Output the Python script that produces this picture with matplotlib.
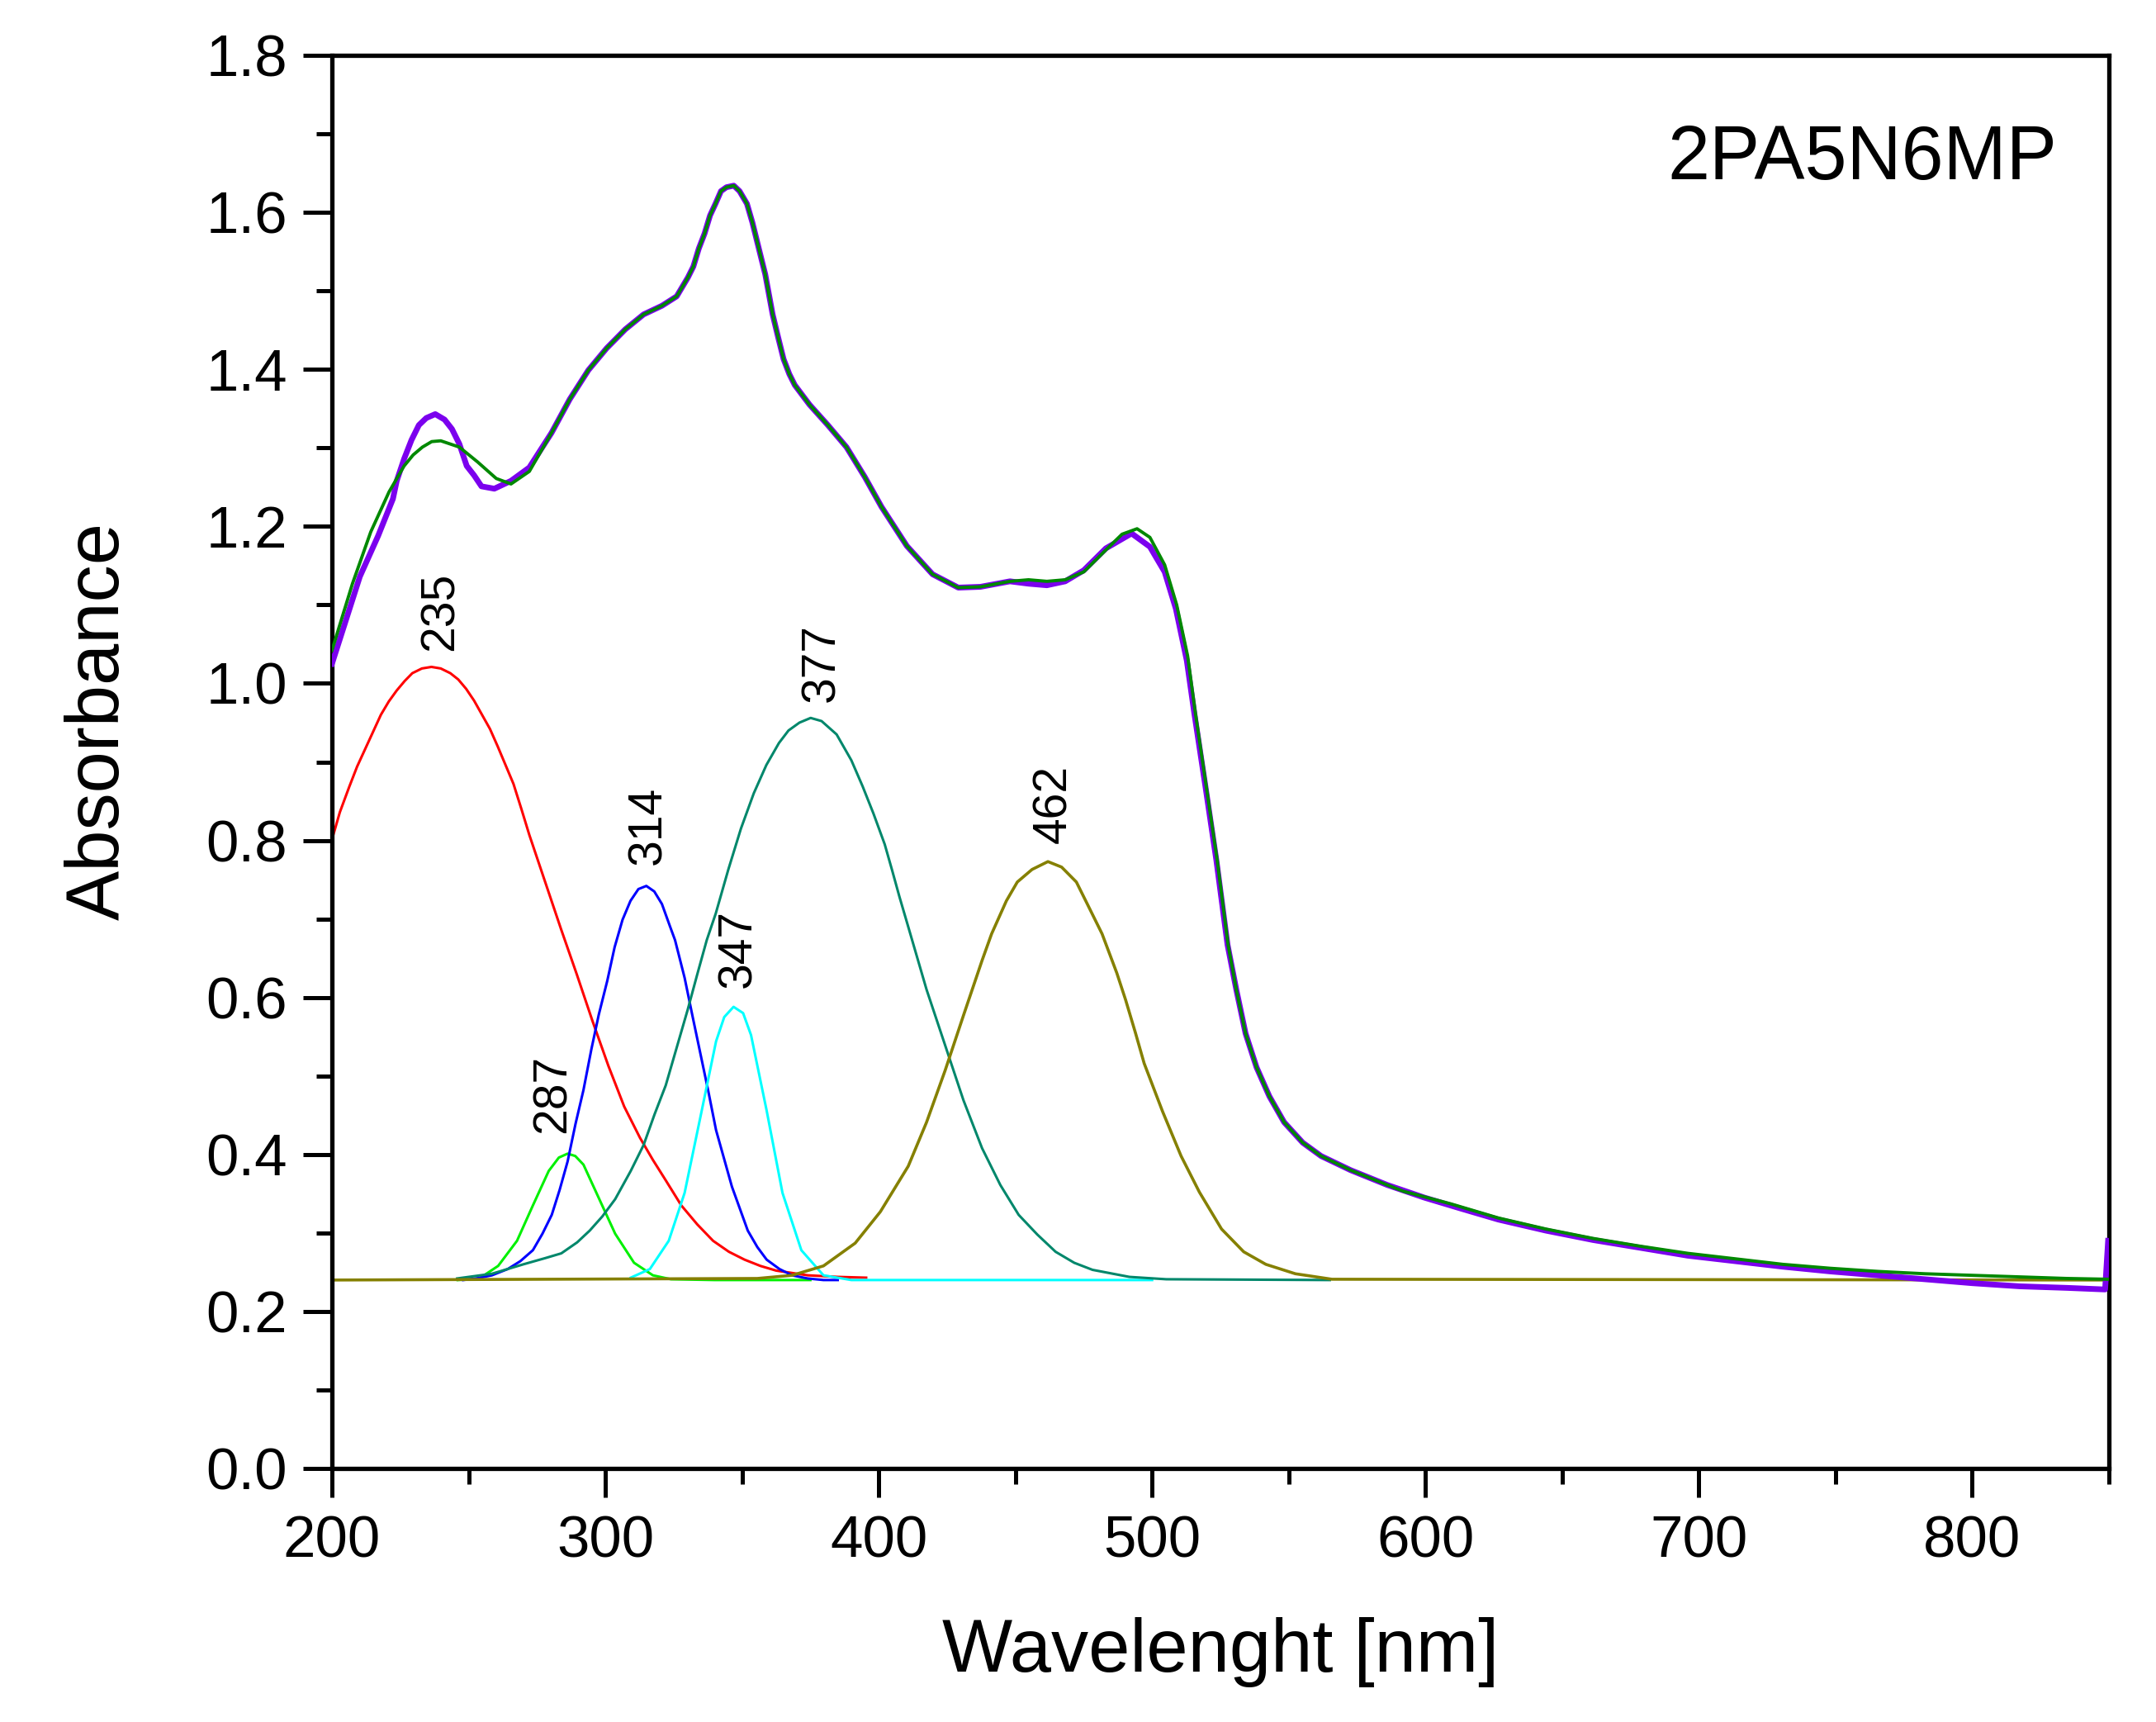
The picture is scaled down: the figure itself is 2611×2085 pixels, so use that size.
import matplotlib
matplotlib.use("Agg")
import matplotlib.pyplot as plt
from matplotlib.ticker import MultipleLocator, FormatStrFormatter

plt.rcParams['font.family'] = ['Liberation Sans', 'DejaVu Sans']

# ---------------- data ----------------
data_x = [200, 210.2, 216.9, 222.3, 223.7, 226.4, 229.1, 231.8, 234.5, 237.8, 241.2, 243.9,
          246.6, 249.3, 252.0, 254.7, 259.4, 265.5, 272.2, 280.3, 287.0, 293.8, 300.5, 307.3,
          314.0, 320.7, 326.1, 330.2, 332.2, 334.2, 336.3, 338.3, 340.3, 342.3, 344.3, 347.0,
          349.1, 351.8, 353.8, 356.5, 358.5, 361.2, 363.2, 365.2, 367.3, 369.3, 374.7, 381.4,
          388.2, 394.9, 401.0, 410.3, 419.7, 429.1, 437.2, 448.0, 454.8, 461.5, 468.2, 475.0,
          483.1, 492.5, 499.2, 504.6, 508.7, 512.7, 515.4, 519.5, 523.5, 527.6, 530.8, 534.2,
          538.2, 542.9, 548.3, 555.1, 561.8, 572.6, 586.1, 599.6, 613.0, 626.7, 644.0, 661.3,
          678.7, 696.0, 713.4, 730.7, 748.0, 765.4, 782.7, 800.0, 817.4, 834.7, 848.6, 849.7]
data_y = [1.025, 1.136, 1.188, 1.235, 1.258, 1.286, 1.310, 1.329, 1.338, 1.343, 1.336, 1.324,
          1.305, 1.277, 1.265, 1.251, 1.248, 1.258, 1.275, 1.319, 1.362, 1.399, 1.427, 1.451,
          1.470, 1.481, 1.493, 1.517, 1.531, 1.554, 1.573, 1.596, 1.611, 1.627, 1.632, 1.634,
          1.627, 1.611, 1.587, 1.549, 1.521, 1.470, 1.441, 1.413, 1.394, 1.380, 1.355, 1.329,
          1.301, 1.263, 1.225, 1.175, 1.139, 1.122, 1.123, 1.130, 1.127, 1.125, 1.130, 1.144,
          1.172, 1.191, 1.174, 1.142, 1.095, 1.029, 0.963, 0.869, 0.775, 0.667, 0.610, 0.554,
          0.511, 0.474, 0.441, 0.415, 0.398, 0.380, 0.361, 0.345, 0.331, 0.317, 0.303, 0.291,
          0.281, 0.271, 0.264, 0.257, 0.251, 0.246, 0.241, 0.236, 0.232, 0.230, 0.228, 0.290]

fit_x = [200, 207.5, 214.2, 220.9, 226.4, 229.7, 233.1, 236.5, 239.8, 243.2, 246.6, 253.3,
         260.1, 265.5, 272.2, 280.3, 287.0, 293.8, 300.5, 307.3, 314.0, 320.7, 326.1, 330.2,
         332.2, 334.2, 336.3, 338.3, 340.3, 342.3, 344.3, 347.0, 349.1, 351.8, 353.8, 356.5,
         358.5, 361.2, 363.2, 365.2, 367.3, 369.3, 374.7, 381.4, 388.2, 394.9, 401.0, 410.3,
         419.7, 429.1, 437.2, 448.0, 454.8, 461.5, 468.2, 475.0, 483.1, 489.0, 494.5, 499.2,
         504.6, 509.0, 513.0, 515.8, 519.8, 523.8, 527.8, 530.8, 534.2, 538.2, 542.9, 548.3,
         555.1, 561.8, 572.6, 586.1, 592.0, 609.3, 626.7, 644.0, 661.3, 678.7, 696.0, 713.4,
         730.7, 748.0, 765.4, 782.7, 800.0, 817.4, 834.7, 850.0]
fit_y = [1.042, 1.127, 1.193, 1.244, 1.277, 1.291, 1.301, 1.308, 1.309, 1.305, 1.301, 1.282,
         1.261, 1.254, 1.270, 1.319, 1.362, 1.399, 1.427, 1.451, 1.470, 1.481, 1.493, 1.517,
         1.531, 1.554, 1.573, 1.596, 1.611, 1.627, 1.632, 1.634, 1.627, 1.611, 1.587, 1.549,
         1.521, 1.470, 1.441, 1.413, 1.394, 1.380, 1.355, 1.329, 1.301, 1.263, 1.225, 1.175,
         1.139, 1.122, 1.123, 1.130, 1.132, 1.130, 1.132, 1.142, 1.170, 1.190, 1.197, 1.186,
         1.151, 1.100, 1.035, 0.963, 0.869, 0.775, 0.667, 0.610, 0.554, 0.511, 0.474, 0.441,
         0.415, 0.398, 0.380, 0.361, 0.353, 0.337, 0.319, 0.305, 0.293, 0.283, 0.274, 0.267,
         0.260, 0.255, 0.251, 0.248, 0.246, 0.244, 0.242, 0.241]

p235_x = [200, 202.9, 206.3, 209.2, 212.1, 215.0, 217.9, 220.8, 223.7, 226.6, 229.4, 232.9,
          236.4, 239.8, 243.3, 246.2, 249.1, 252.0, 254.9, 257.8, 260.6, 263.5, 266.4, 269.3,
          272.2, 278.0, 283.8, 289.5, 295.3, 301.1, 306.9, 312.7, 317.4, 322.1, 327.8, 333.6,
          339.4, 345.2, 350.9, 356.7, 362.5, 374.1, 385.0, 395.4]
p235_y = [0.801, 0.836, 0.868, 0.894, 0.916, 0.938, 0.960, 0.977, 0.991, 1.003, 1.013, 1.019,
          1.021, 1.019, 1.013, 1.005, 0.993, 0.978, 0.960, 0.942, 0.920, 0.896, 0.872, 0.840,
          0.807, 0.747, 0.687, 0.630, 0.570, 0.513, 0.461, 0.421, 0.393, 0.367, 0.335, 0.311,
          0.290, 0.276, 0.266, 0.258, 0.252, 0.246, 0.244, 0.243]

p287_x = [246.0, 253.9, 260.8, 267.7, 273.5, 279.3, 283.0, 286.2, 289.0, 292.0, 297.8, 303.6,
          310.5, 317.4, 324.0, 340.0, 360.0, 375.0]
p287_y = [0.240, 0.242, 0.258, 0.290, 0.335, 0.379, 0.396, 0.401, 0.398, 0.387, 0.343, 0.299,
          0.262, 0.246, 0.241, 0.240, 0.240, 0.240]

p314_x = [248.0, 252.7, 258.5, 264.3, 268.9, 273.5, 277.0, 280.4, 283.3, 286.2, 289.1, 292.0,
          294.9, 297.6, 300.7, 303.4, 306.3, 309.2, 312.1, 315.0, 317.9, 320.7, 323.6, 325.5,
          329.0, 331.9, 334.8, 337.7, 340.5, 343.4, 346.3, 349.2, 352.1, 355.6, 359.0, 363.7,
          368.3, 374.0, 379.8, 385.0]
p314_y = [0.240, 0.242, 0.246, 0.254, 0.264, 0.278, 0.299, 0.323, 0.355, 0.391, 0.439, 0.482,
          0.534, 0.578, 0.621, 0.664, 0.699, 0.723, 0.738, 0.742, 0.735, 0.719, 0.691, 0.673,
          0.625, 0.576, 0.528, 0.480, 0.431, 0.395, 0.359, 0.331, 0.303, 0.282, 0.266, 0.254,
          0.246, 0.242, 0.240, 0.240]

p347_x = [309.3, 316.3, 323.2, 329.0, 334.8, 340.5, 343.5, 346.9, 350.4, 353.3, 359.0, 364.8,
          371.7, 379.8, 390.0, 500.0]
p347_y = [0.243, 0.254, 0.290, 0.351, 0.448, 0.544, 0.575, 0.588, 0.580, 0.552, 0.456, 0.351,
          0.278, 0.246, 0.240, 0.240]

p377_x = [245.8, 258.5, 270.0, 278.1, 283.9, 289.7, 294.3, 298.9, 303.6, 309.3, 314.0, 318.0,
          322.1, 326.1, 330.1, 333.6, 337.1, 340.4, 345.0, 349.6, 354.3, 358.9, 363.5, 367.0,
          371.0, 375.1, 379.1, 384.6, 390.0, 394.1, 398.1, 402.2, 404.9, 407.6, 410.8, 417.5,
          424.3, 431.0, 437.8, 444.5, 451.2, 458.0, 464.7, 471.5, 478.2, 491.7, 505.2, 565.0]
p377_y = [0.242, 0.248, 0.260, 0.268, 0.274, 0.288, 0.303, 0.321, 0.343, 0.379, 0.412, 0.451,
          0.488, 0.536, 0.584, 0.629, 0.673, 0.707, 0.763, 0.815, 0.860, 0.896, 0.924, 0.940,
          0.950, 0.956, 0.952, 0.935, 0.902, 0.869, 0.834, 0.795, 0.762, 0.728, 0.690, 0.610,
          0.539, 0.469, 0.408, 0.361, 0.323, 0.298, 0.276, 0.262, 0.253, 0.244, 0.241, 0.240]

p462_x = [200.0, 355.6, 368.3, 379.8, 391.4, 400.6, 410.8, 417.5, 424.3, 431.0, 437.8, 441.3,
          446.7, 450.7, 456.1, 461.9, 466.9, 472.3, 476.3, 481.7, 487.1, 490.3, 493.9, 497.1,
          503.8, 510.6, 517.3, 525.4, 533.5, 541.6, 552.4, 565.8, 850.0]
p462_y = [0.240, 0.242, 0.246, 0.258, 0.287, 0.327, 0.385, 0.441, 0.507, 0.577, 0.647, 0.681,
          0.723, 0.747, 0.763, 0.773, 0.766, 0.747, 0.719, 0.681, 0.631, 0.597, 0.555, 0.516,
          0.455, 0.398, 0.352, 0.305, 0.276, 0.260, 0.248, 0.241, 0.240]

peak_labels = ['235', '287', '314', '347', '377', '462']
label_x = [238.1, 279.0, 314.0, 346.8, 377.3, 462.2]
label_y = [1.042, 0.427, 0.769, 0.612, 0.976, 0.796]

x_ticks = [200, 300, 400, 500, 600, 700, 800]
y_ticks = [0.0, 0.2, 0.4, 0.6, 0.8, 1.0, 1.2, 1.4, 1.6, 1.8]
sample_name = '2PA5N6MP'

# ---------------- figure ----------------
fig = plt.figure(figsize=(26.11, 20.85), dpi=100)
ax = fig.add_axes([402 / 2611, 1 - 1778 / 2085, (2554 - 402) / 2611, (1778 - 67) / 2085])

ax.plot(data_x, data_y, color='#7B00EE', lw=5.0, zorder=3)
ax.plot(fit_x, fit_y, color='#008800', lw=2.8, zorder=4)

comp_lw = 2.2
ax.plot(p235_x, p235_y, color='#FF0000', lw=comp_lw, zorder=2)
ax.plot(p287_x, p287_y, color='#00F000', lw=comp_lw, zorder=2)
ax.plot(p314_x, p314_y, color='#0000FF', lw=comp_lw, zorder=2)
ax.plot(p347_x, p347_y, color='#00FFFF', lw=comp_lw, zorder=2)
ax.plot(p377_x, p377_y, color='#00876B', lw=comp_lw, zorder=2)
ax.plot(p462_x, p462_y, color='#858000', lw=comp_lw + 0.4, zorder=2)

# offset of half the descent so the ink is centred on label_x
for t, lx, ly in zip(peak_labels, label_x, label_y):
    ax.text(lx + 1.8, ly, t, rotation=90, ha='center', va='bottom', fontsize=41,
            color='black', zorder=5)

ax.text(0.971, 0.9125, sample_name, transform=ax.transAxes, ha='right', va='baseline',
        fontsize=66)

ax.set_xlim(200, 850)
ax.set_ylim(0, 1.8)
ax.set_xticks(x_ticks)
ax.set_yticks(y_ticks)
ax.xaxis.set_minor_locator(MultipleLocator(50))
ax.yaxis.set_minor_locator(MultipleLocator(0.1))
ax.yaxis.set_major_formatter(FormatStrFormatter('%.1f'))

for sp in ax.spines.values():
    sp.set_linewidth(3.8)

ax.tick_params(axis='both', which='major', direction='out', length=25, width=3.6,
               labelsize=51, top=False, right=False)
ax.tick_params(axis='both', which='minor', direction='out', length=14, width=3.6,
               top=False, right=False)
ax.tick_params(axis='x', which='major', pad=16)
ax.tick_params(axis='y', which='major', pad=14)

ax.set_xlabel('Wavelenght [nm]', fontsize=65)
ax.set_ylabel('Absorbance', fontsize=65)
ax.xaxis.set_label_coords(0.5, (1778 - 1958) / 1711)
ax.yaxis.set_label_coords((163 - 402) / 2152, (1778 - 873) / 1711)

fig.savefig('out.png', dpi=100, facecolor='white')
